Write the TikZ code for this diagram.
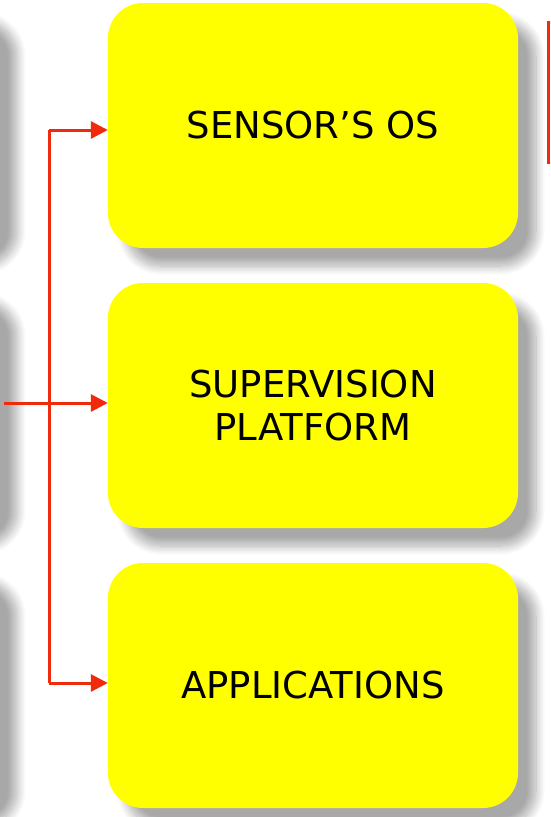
\documentclass[tikz,border=0pt]{standalone}
\usepackage{fontspec}
\setmainfont{DejaVu Sans}
\usetikzlibrary{shadows.blur,arrows.meta}
\definecolor{boxyellow}{HTML}{FFFF00}
\definecolor{linkred}{HTML}{F02A0C}
\tikzset{
  softshadow/.style={blur shadow={shadow xshift=18pt, shadow yshift=-18pt,
      shadow blur radius=9pt, shadow blur steps=14, shadow opacity=34}},
  layerbox/.style={rectangle, rounded corners=35pt, fill=boxyellow,
    minimum width=410pt, minimum height=245pt, inner sep=0pt, align=center,
    font=\fontsize{37}{43}\selectfont, softshadow},
  sidebox/.style={rectangle, rounded corners=35pt, fill=white,
    minimum width=300pt, minimum height=245pt, inner sep=0pt, softshadow},
  link/.style={draw=linkred, line width=3pt},
  linkarrow/.style={link, -{Triangle[length=17pt,width=17pt]}}
}
\begin{document}
\begin{tikzpicture}[x=1pt,y=-1pt]
  \useasboundingbox (0,0) rectangle (550,817);
  \clip (0,0) rectangle (550,817);

  % column of boxes to the left, only their shadows reach the page
  \node[sidebox] (l1) at (-151,125.5) {};
  \node[sidebox] (l2) at (-151,405.5) {};
  \node[sidebox] (l3) at (-151,685.5) {};

  % the three layers
  \node[layerbox] (os)  at (313,125.5) {SENSOR’S OS};
  \node[layerbox] (sup) at (313,405.5) {SUPERVISION\\PLATFORM};
  \node[layerbox] (app) at (313,685.5) {APPLICATIONS};

  % red frame on the right edge
  \draw[link] (548,22) rectangle (760,162);

  % distribution bus
  \coordinate (in)   at (4,403);
  \coordinate (top)  at (49,130);
  \coordinate (bot)  at (49,683);
  \draw[link] (top) -- (bot);
  \draw[linkarrow] (in) -- (sup.west |- in);
  \draw[linkarrow] (top) -- (os.west |- top);
  \draw[linkarrow] (bot) -- (app.west |- bot);
\end{tikzpicture}
\end{document}
